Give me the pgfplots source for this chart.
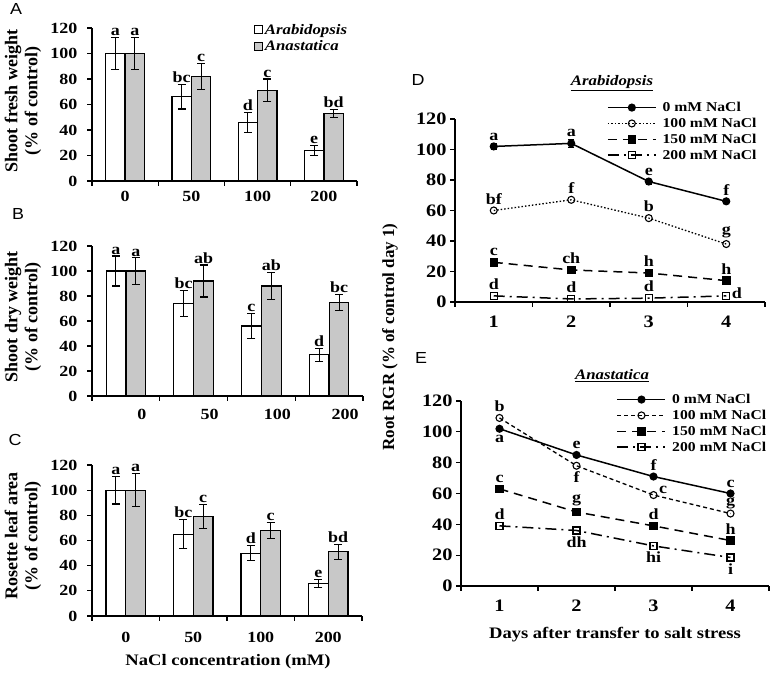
\documentclass[border=0pt]{standalone}
\usepackage{fontspec}
\setmainfont[FakeStretch=1.16]{Liberation Serif}
\newfontfamily\rotfont{Liberation Serif}
\newfontfamily\arial[FakeStretch=1.12]{Liberation Sans}
\usepackage{pgfplots}
\pgfplotsset{compat=1.18}
\definecolor{bargray}{RGB}{200,200,200}
\newcommand{\fs}{\fontsize{15.5}{17}\selectfont\bfseries}
\newcommand{\fb}{\fontsize{17.5}{19}\selectfont\bfseries}
\newcommand{\fl}{\fontsize{13.5}{14}\selectfont\bfseries}
\pgfplotsset{
  base/.style={scale only axis, axis lines=left, axis line style={-, line width=1.1pt},
    tick align=outside, major tick length=5pt, tick style={black, line width=1.1pt},
    ymin=0, ymax=120, ytick={0,20,...,120},
    /pgf/number format/assume math mode=true, clip=false,
    xticklabels={}, extra x tick style={tick style={draw=none}}},
  barax/.style={base, tick label style={font=\fs}, yticklabel style={xshift=-6pt},
    xmin=-0.5, xmax=3.5, xtick={-0.5,0.5,1.5,2.5,3.5},
    extra x ticks={0,1,2,3}, extra x tick labels={0,50,100,200}},
  lineax/.style={base, tick label style={font=\fb}, xmin=0.5, xmax=4.5, xtick={0.5,1.5,2.5,3.5,4.5},
    extra x ticks={1,2,3,4}, extra x tick labels={1,2,3,4},
    extra x tick style={xticklabel style={yshift=-5pt}}},
  wbar/.style={ybar, bar width=0.29, bar shift=0, fill=white, draw=black, line width=1.1pt,
    error bars/.cd, y dir=both, y explicit, error bar style={line width=1.1pt, black},
    error mark options={rotate=90, mark size=4pt, line width=1.1pt, black}},
  gbar/.style={ybar, bar width=0.29, bar shift=0, fill=bargray, draw=black, line width=1.1pt,
    error bars/.cd, y dir=both, y explicit, error bar style={line width=1.1pt, black},
    error mark options={rotate=90, mark size=4pt, line width=1.1pt, black}},
  s0/.style={black, line width=1.5pt, solid, mark=*, mark size=3.3pt, mark options={solid}},
  s100D/.style={black, line width=1.3pt, dash pattern=on 1.5pt off 2pt, mark=o, mark size=3.5pt, mark options={solid, fill=white, line width=1.1pt}},
  s100E/.style={black, line width=1.3pt, dash pattern=on 4pt off 3pt, mark=o, mark size=3.5pt, mark options={solid, fill=white, line width=1.1pt}},
  s150/.style={black, line width=1.5pt, dash pattern=on 9pt off 6pt, mark=square*, mark size=3.5pt, mark options={solid}},
  s200/.style={black, line width=1.5pt, dash pattern=on 11pt off 5pt on 2pt off 5pt, mark=square, mark size=3.5pt, mark options={solid, fill=white, line width=1.1pt}},
  lineleg/.style={legend image code/.code={\draw[mark repeat=2, mark phase=2, ##1] plot coordinates {(0pt,0pt) (24pt,0pt) (48pt,0pt)};},
    legend style={draw=none, fill=none, font=\fl, row sep=1pt, inner sep=0pt, cells={anchor=west},
      /tikz/every odd column/.append style={column sep=4pt}}},
}
\newcommand{\lab}[4][south]{\node[anchor=#1, inner sep=1.5pt, font=\fs] at (axis cs:#2,#3) {#4};}
\begin{document}
\begin{tikzpicture}[x=1pt,y=1pt]
\useasboundingbox (0,0) rectangle (774,676);
\fill[white] (0,0) rectangle (774,676);
% ---------------- A
\begin{axis}[barax, at={(92pt,495pt)}, anchor=south west, width=265pt, height=153pt,
  extra x tick style={xticklabel style={yshift=-2pt}},
  legend style={at={(0.61,1.04)}, anchor=north west, draw=none, fill=none,
    font=\fontsize{14.5}{15}\selectfont\bfseries\itshape, row sep=1pt, inner sep=0pt, cells={anchor=west}},
  legend image code/.code={\draw[#1, line width=1pt] (0pt,-4pt) rectangle (8pt,4pt);}]
\addplot[wbar] coordinates {(-0.147,100) +- (0,12.6) (0.853,66) +- (0,9.5) (1.853,46) +- (0,8) (2.853,24) +- (0,3.7)};
\addplot[gbar] coordinates {(0.147,100) +- (0,12.5) (1.147,82) +- (0,10) (2.147,71) +- (0,9) (3.147,53) +- (0,3.3)};
\legend{Arabidopsis, Anastatica}
\lab{-0.147}{112.6}{a}\lab{0.853}{75.5}{bc}\lab{1.853}{54}{d}\lab{2.853}{27.7}{e}
\lab{0.147}{112.5}{a}\lab{1.147}{92}{c}\lab{2.147}{80}{c}\lab{3.147}{56.3}{bd}
\end{axis}
% ---------------- B
\begin{axis}[barax, at={(92pt,280pt)}, anchor=south west, width=271pt, height=150pt,
  extra x tick style={xticklabel style={xshift=16pt, yshift=-5pt}}]
\addplot[wbar] coordinates {(-0.147,100) +- (0,12) (0.853,74) +- (0,10.5) (1.853,56) +- (0,10) (2.853,33) +- (0,5.3)};
\addplot[gbar] coordinates {(0.147,100) +- (0,10.5) (1.147,92) +- (0,12.8) (2.147,88) +- (0,10.6) (3.147,75) +- (0,6.4)};
\lab{-0.147}{112}{a}\lab{0.853}{84.5}{bc}\lab{1.853}{66}{c}\lab{2.853}{38.3}{d}
\lab{0.147}{110.5}{a}\lab{1.147}{104.8}{ab}\lab{2.147}{98.6}{ab}\lab{3.147}{81.4}{bc}
\end{axis}
% ---------------- C
\begin{axis}[barax, at={(92pt,60pt)}, anchor=south west, width=270pt, height=151pt,
  extra x tick style={xticklabel style={yshift=-8pt}}]
\addplot[wbar] coordinates {(-0.147,100) +- (0,11) (0.853,65) +- (0,11.5) (1.853,50) +- (0,6) (2.853,26) +- (0,3)};
\addplot[gbar] coordinates {(0.147,100) +- (0,13) (1.147,79) +- (0,9.5) (2.147,68) +- (0,6.5) (3.147,51) +- (0,6)};
\lab{-0.147}{111}{a}\lab{0.853}{76.5}{bc}\lab{1.853}{56}{d}\lab{2.853}{29}{e}
\lab{0.147}{113}{a}\lab{1.147}{88.5}{c}\lab{2.147}{74.5}{c}\lab{3.147}{57}{bd}
\end{axis}
% ---------------- D
\begin{axis}[lineax, lineleg, at={(455pt,374pt)}, anchor=south west, width=310pt, height=183pt,
  legend style={at={(0.49,1.104)}, anchor=north west}]
\addplot[s0, error bars/.cd, y dir=both, y explicit, error bar style={line width=1pt, solid}, error mark options={rotate=90, mark size=3pt, solid}]
  coordinates {(1,102) +- (0,2) (2,104) +- (0,2.5) (3,79) +- (0,1.5) (4,66) +- (0,1.5)};
\addplot[s100D] coordinates {(1,60) (2,67) (3,55) (4,38)};
\addplot[s150] coordinates {(1,26) (2,21) (3,19) (4,14)};
\addplot[s200] coordinates {(1,4) (2,2) (3,2.5) (4,4)};
\legend{0 mM NaCl, 100 mM NaCl, 150 mM NaCl, 200 mM NaCl}
\lab{1}{105}{a}\lab{2}{107}{a}\lab{3}{82}{e}\lab{4}{69}{f}
\lab{1}{63}{bf}\lab{2}{70}{f}\lab{3}{58}{b}\lab{4}{41}{g}
\lab{1}{29}{c}\lab{2}{24}{ch}\lab{3}{22}{h}\lab{4}{17}{h}
\lab{1}{7}{d}\lab{2}{5}{d}\lab{3}{5.5}{d}\lab[west]{4.05}{6}{d}
\end{axis}
% ---------------- E
\begin{axis}[lineax, lineleg, at={(461pt,90pt)}, anchor=south west, width=308pt, height=185pt,
  legend style={at={(0.505,1.049)}, anchor=north west}]
\addplot[s0] coordinates {(1,102) (2,85) (3,71) (4,60)};
\addplot[s100E] coordinates {(1,109) (2,78) (3,59) (4,47)};
\addplot[s150] coordinates {(1,63) (2,48) (3,39) (4,29.5)};
\addplot[s200] coordinates {(1,39) (2,36) (3,26) (4,18.5)};
\legend{0 mM NaCl, 100 mM NaCl, 150 mM NaCl, 200 mM NaCl}
\lab{1}{112}{b}\lab[north]{1}{99}{a}\lab{2}{88}{e}\lab[north]{2}{75}{f}
\lab{3}{74}{f}\lab[south west]{3.05}{59}{c}\lab{4}{63}{c}\lab{4}{49}{g}
\lab{1}{66}{c}\lab{2}{51}{g}\lab{3}{42}{d}\lab{4}{32.5}{h}
\lab{1}{42}{d}\lab[north]{2}{33}{dh}\lab[north]{3}{23}{hi}\lab[north]{4}{15.5}{i}
\end{axis}
% ---------------- texts
\node[font=\arial\fontsize{16}{16}\selectfont] at (16,667) {A};
\node[font=\arial\fontsize{16}{16}\selectfont] at (18,462) {B};
\node[font=\arial\fontsize{16}{16}\selectfont] at (15,236) {C};
\node[font=\arial\fontsize{16}{16}\selectfont] at (418,596) {D};
\node[font=\arial\fontsize{16}{16}\selectfont] at (421,318) {E};
\node[rotate=90, align=center, font=\rotfont\fontsize{18}{20}\selectfont\bfseries] at (23,575) {Shoot fresh weight\\(\% of control)};
\node[rotate=90, align=center, font=\rotfont\fontsize{18}{20}\selectfont\bfseries] at (23,359) {Shoot dry weight\\(\% of control)};
\node[rotate=90, align=center, font=\rotfont\fontsize{18}{20}\selectfont\bfseries] at (23,140) {Rosette leaf area\\(\% of control)};
\node[font=\fontsize{16}{16}\selectfont\bfseries] at (228,14) {NaCl concentration (mM)};
\node[font=\fontsize{16}{16}\selectfont\bfseries] at (615,41) {Days after transfer to salt stress};
\node[rotate=90, font=\rotfont\fontsize{17}{17}\selectfont\bfseries] at (390,339) {Root RGR (\% of control day 1)};
\node[font=\fontsize{14.5}{15}\selectfont\bfseries\itshape] at (612,593) {\underline{Arabidopsis}};
\node[font=\fontsize{14.5}{15}\selectfont\bfseries\itshape] at (612,300) {\underline{Anastatica}};
\end{tikzpicture}
\end{document}
